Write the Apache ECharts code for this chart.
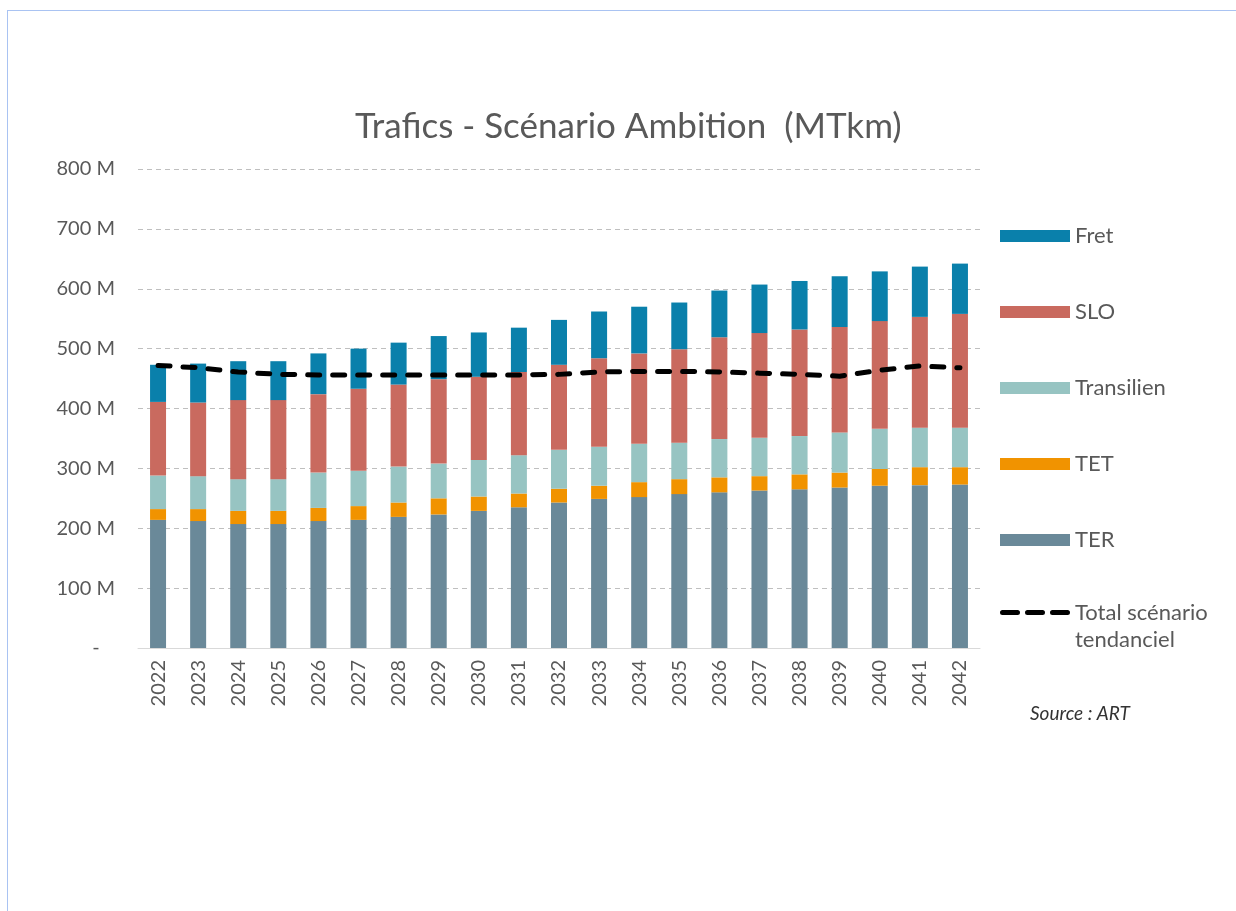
<!DOCTYPE html>
<html>
<head>
<meta charset="utf-8">
<script src="https://cdn.jsdelivr.net/npm/echarts@6/dist/echarts.min.js"></script>
<style>
  html, body { margin: 0; padding: 0; background: #fff; }
  #frame { position: absolute; left: 7px; top: 10px; width: 1240px; height: 920px;
           border-top: 1px solid #a9c3f2; border-left: 1px solid #a9c3f2; pointer-events: none; }
  #chart { position: absolute; left: 0; top: 0; width: 1236px; height: 911px; }
</style>
</head>
<body>
<div id="frame"></div>
<div id="chart"></div>
<script>
const years = ['2022','2023','2024','2025','2026','2027','2028','2029','2030','2031','2032',
               '2033','2034','2035','2036','2037','2038','2039','2040','2041','2042'];
const ter        = [214, 212, 207, 207, 212, 214, 219, 223, 229, 235, 243, 249, 252, 257, 260, 263, 265, 268, 271, 272, 273];
const tet        = [ 18,  20,  22,  22,  22,  23,  24,  27,  24,  23,  23,  22,  25,  25,  25,  24,  25,  25,  28,  30,  29];
const transilien = [ 56,  55,  53,  53,  59,  59,  60,  58,  61,  64,  65,  65,  64,  61,  64,  64,  64,  67,  67,  66,  66];
const slo        = [123, 123, 132, 132, 131, 137, 137, 141, 139, 139, 142, 148, 151, 156, 170, 175, 178, 176, 180, 185, 190];
const fret       = [ 62,  65,  65,  65,  68,  67,  70,  72,  74,  74,  75,  78,  78,  78,  78,  81,  81,  85,  83,  84,  84];
const totalTendanciel = [472, 468, 461, 457, 456, 456, 456, 456, 456, 456, 457, 461, 462, 462, 461, 459, 457, 454, 464, 471, 468];
const yTicks = [0, 100, 200, 300, 400, 500, 600, 700, 800];

const txt = '#595959';
const font = 'Lato';
const chart = echarts.init(document.getElementById('chart'), null, {renderer: 'canvas'});

function barSeries(name, data, color) {
  return { name, type: 'bar', stack: 'total', data, barWidth: 16,
           itemStyle: { color }, emphasis: { disabled: true } };
}

const dashIcon = 'path://M2.5,0 H17.5 A2.5,2.5 0 0 1 17.5,5 H2.5 A2.5,2.5 0 0 1 2.5,0 Z ' +
                 'M27.5,0 H42.5 A2.5,2.5 0 0 1 42.5,5 H27.5 A2.5,2.5 0 0 1 27.5,0 Z ' +
                 'M52.5,0 H67.5 A2.5,2.5 0 0 1 67.5,5 H52.5 A2.5,2.5 0 0 1 52.5,0 Z';

chart.setOption({
  animation: false,
  title: {
    text: 'Trafics - Scénario Ambition  (MTkm)',
    left: 350, top: 104,
    textStyle: { fontFamily: font, fontSize: 35, fontWeight: 'normal', color: txt }
  },
  grid: { left: 138, right: 256, top: 169, bottom: 263, containLabel: false },
  legend: [
    {
      data: ['Fret', 'SLO', 'Transilien', 'TET', 'TER'],
      orient: 'vertical', left: 995, top: 220,
      itemWidth: 70, itemHeight: 12, itemGap: 54, icon: 'rect',
      textStyle: { fontFamily: font, fontSize: 22, color: txt, lineHeight: 22 }
    },
    {
      data: [{ name: 'Total scénario tendanciel', icon: dashIcon }],
      orient: 'vertical', left: 995, top: 567,
      itemWidth: 70, itemHeight: 5,
      itemStyle: { color: '#000' },
      formatter: () => ' \nTotal scénario\ntendanciel',
      textStyle: { fontFamily: font, fontSize: 22, color: txt, lineHeight: 27 }
    }
  ],
  xAxis: {
    type: 'category', data: years,
    axisTick: { show: false },
    axisLine: { lineStyle: { color: '#d9d9d9', width: 1 } },
    axisLabel: { rotate: 90, margin: 12, color: txt, fontFamily: font, fontSize: 20 }
  },
  yAxis: {
    type: 'value', min: yTicks[0], max: yTicks[yTicks.length - 1], interval: 100,
    axisLine: { show: false }, axisTick: { show: false },
    splitLine: { lineStyle: { color: '#bfbfbf', type: [5, 4], width: 1 } },
    axisLabel: { margin: 23, color: txt, fontFamily: font, fontSize: 20,
                 formatter: v => v === 0 ? '-   ' : v + ' M' }
  },
  series: [
    barSeries('TER', ter, '#6a8999'),
    barSeries('TET', tet, '#f19300'),
    barSeries('Transilien', transilien, '#97c4c2'),
    barSeries('SLO', slo, '#c96a5f'),
    barSeries('Fret', fret, '#0a80ab'),
    {
      name: 'Total scénario tendanciel', type: 'line', data: totalTendanciel,
      symbol: 'none', z: 10,
      lineStyle: { color: '#000', width: 5, type: [12, 13], cap: 'round', join: 'round' },
      itemStyle: { color: '#000' },
      emphasis: { disabled: true }
    }
  ],
  graphic: [
    { type: 'text', left: 1030, top: 704,
      style: { text: 'Source : ART', fontFamily: font, fontStyle: 'italic', fontSize: 19, fill: '#333' } }
  ]
});
</script>
</body>
</html>
